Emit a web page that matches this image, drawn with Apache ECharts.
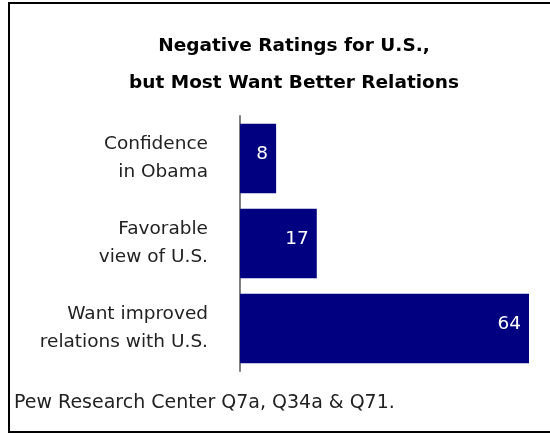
<!DOCTYPE html>
<html>
<head>
<meta charset="utf-8">
<script src="https://cdn.jsdelivr.net/npm/echarts@6/dist/echarts.min.js"></script>
<style>html,body{margin:0;padding:0;background:#fff}#c{width:550px;height:433px}</style>
</head>
<body>
<div id="c"></div>
<script>
const categories = ['Confidence\nin Obama', 'Favorable\nview of U.S.', 'Want improved\nrelations with U.S.'];
const values = [8, 17, 64];
const titleText = 'Negative Ratings for U.S.,\nbut Most Want Better Relations';
const footerText = 'Pew Research Center Q7a, Q34a & Q71.';
const FONT = 'DejaVu Sans';

const chart = echarts.init(document.getElementById('c'), null, {renderer: 'canvas'});
chart.setOption({
  animation: false,
  backgroundColor: '#fff',
  title: {
    text: titleText,
    left: 289, top: 23, textAlign: 'center',
    textStyle: {fontFamily: FONT, fontSize: 18.5, fontWeight: 'bold', color: '#000', lineHeight: 37}
  },
  grid: {left: 240, right: 21, top: 116, bottom: 62, containLabel: false},
  xAxis: {
    type: 'value', min: 0, max: 64, show: false
  },
  yAxis: {
    type: 'category', inverse: true, data: categories,
    axisLine: {show: true, lineStyle: {color: '#808080', width: 2}},
    axisTick: {show: false},
    axisLabel: {fontFamily: FONT, fontSize: 18.5, color: '#222', lineHeight: 28, margin: 32, align: 'right',
      backgroundColor: 'rgba(255,255,255,0)', padding: [0, 0, 7, 0]},
    splitLine: {show: false}
  },
  series: [{
    type: 'bar', data: values, barCategoryGap: '18%',
    itemStyle: {color: '#000080'},
    label: {show: true, position: 'insideRight', distance: 8, color: '#fff', fontFamily: FONT, fontSize: 18.5, offset: [0, -4]}
  }],
  graphic: [
    {type: 'rect', shape: {x: 9, y: 3, width: 560, height: 429}, style: {fill: null, stroke: '#000', lineWidth: 2}, silent: true},
    {type: 'text', left: 14, top: 394, style: {text: footerText, fontFamily: FONT, fontSize: 19, fill: '#222'}}
  ]
});
</script>
</body>
</html>
